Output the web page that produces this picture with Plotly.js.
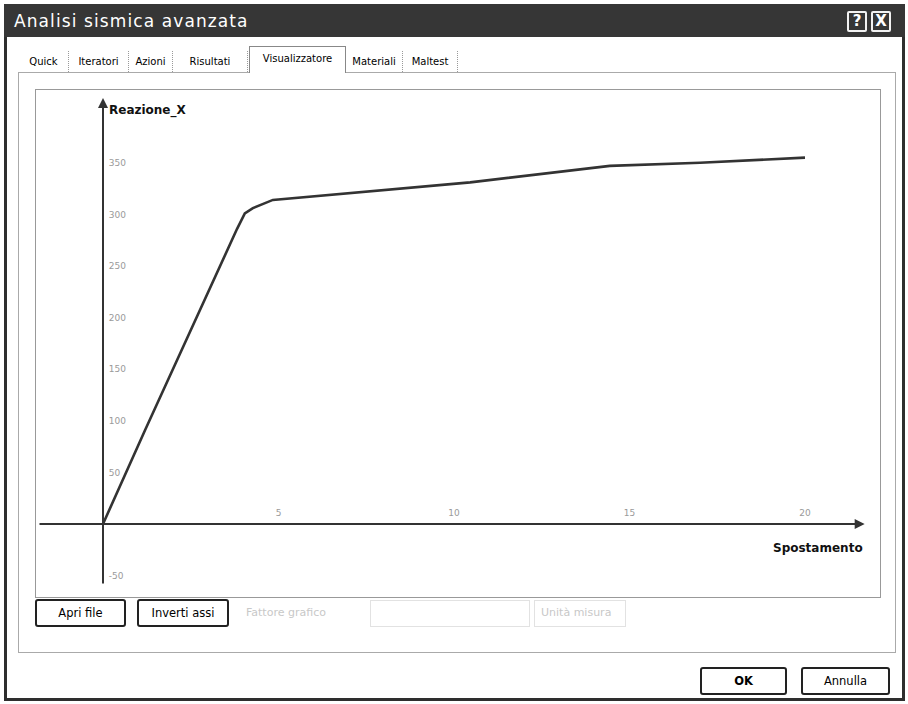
<!DOCTYPE html>
<html><head><meta charset="utf-8">
<script src="https://cdn.plot.ly/plotly-3.0.1.min.js"></script>
<style>
html,body{margin:0;padding:0;background:#fff;}
body{width:908px;height:704px;overflow:hidden;position:relative;font-family:"DejaVu Sans",sans-serif;}
.abs{position:absolute;box-sizing:border-box;}
#win{left:4px;top:4px;width:901px;height:697px;border:3px solid #2e2e2e;}
#titlebar{left:4px;top:4px;width:901px;height:33px;background:#363636;}
#title{left:14px;top:11px;color:#fff;font-size:17px;letter-spacing:1.1px;white-space:nowrap;}
.wbtn{top:11px;width:20px;height:21px;border:2px solid #f2f2f2;color:#fff;font-size:15px;font-weight:bold;text-align:center;line-height:17px;border-radius:2px;}
.tab{top:51px;height:21px;font-size:10px;color:#000;white-space:nowrap;line-height:21px;text-align:center;border-right:1px dotted #999;}
#seltab{top:46px;height:27px;background:#fff;border:1px solid #888;border-bottom:none;line-height:24px;font-size:10px;text-align:center;color:#000;}
#panel{left:18px;top:72px;width:878px;height:581px;border:1px solid #aaa;}
#frame{left:35px;top:89px;width:846px;height:509px;border:1px solid #999;}
#plot{left:36px;top:90px;width:844px;height:506px;}
.btn{height:28px;border:2px solid #222;border-radius:3px;font-size:11.5px;text-align:center;line-height:24px;color:#000;background:#fff;}
.dis{color:#c8c8c8;font-size:11px;white-space:nowrap;}
</style></head>
<body>
<div class="abs" id="win"></div>
<div class="abs" id="titlebar"></div>
<div class="abs" id="title">Analisi sismica avanzata</div>
<div class="abs wbtn" style="left:847px;">?</div>
<div class="abs wbtn" style="left:871px;">X</div>

<div class="abs" id="panel"></div>
<div class="abs tab" style="left:19px;width:50px;">Quick</div>
<div class="abs tab" style="left:69px;width:60px;">Iteratori</div>
<div class="abs tab" style="left:129px;width:44px;">Azioni</div>
<div class="abs tab" style="left:173px;width:75px;">Risultati</div>
<div class="abs" id="seltab" style="left:249px;width:97px;">Visualizzatore</div>
<div class="abs tab" style="left:346px;width:57px;">Materiali</div>
<div class="abs tab" style="left:403px;width:55px;">Maltest</div>

<div class="abs" id="frame"></div>
<div class="abs" id="plot"></div>

<div class="abs btn" style="left:35px;top:599px;width:91px;">Apri file</div>
<div class="abs btn" style="left:137px;top:599px;width:92px;">Inverti assi</div>
<div class="abs dis" style="left:246px;top:606px;">Fattore grafico</div>
<div class="abs" style="left:370px;top:600px;width:160px;height:27px;border:1px solid #e2e2e2;"></div>
<div class="abs" style="left:534px;top:600px;width:92px;height:27px;border:1px solid #e2e2e2;"></div>
<div class="abs dis" style="left:541px;top:606px;">Unità misura</div>

<div class="abs btn" style="left:700px;top:667px;width:87px;font-weight:bold;">OK</div>
<div class="abs btn" style="left:801px;top:667px;width:89px;">Annulla</div>

<script>
// Data
const spostamento = [0, 1.20, 3.82, 4.04, 4.27, 4.84, 10.46, 14.44, 17.01, 20.0];
const reazione    = [0, 91, 286, 301, 306, 314, 331, 347, 350, 355];
const xTickVals = [5, 10, 15, 20];
const xTickText = ['5', '10', '15', '20'];
const yTickVals = [-50, 50, 100, 150, 200, 250, 300, 350];
const yTickText = ['-50', '50', '100', '150', '200', '250', '300', '350'];
const xTitle = 'Spostamento';
const yTitle = 'Reazione_X';

const xRange = [-1.909, 22.137];
const yRange = [-69.8, 420.5];
const xAxisPos = (0 - yRange[0]) / (yRange[1] - yRange[0]);
const yAxisPos = (0 - xRange[0]) / (xRange[1] - xRange[0]);

const tickFont = {family: 'DejaVu Sans', size: 9, color: '#9a9a9a'};
const titleFont = {family: 'DejaVu Sans', size: 12, color: '#111', weight: 'bold'};

const trace = {
  x: spostamento, y: reazione, type: 'scatter', mode: 'lines',
  line: {color: '#333333', width: 2.6}, hoverinfo: 'skip'
};

const layout = {
  width: 844, height: 506,
  margin: {l: 0, r: 0, t: 0, b: 0, pad: 0},
  paper_bgcolor: 'rgba(0,0,0,0)', plot_bgcolor: 'rgba(0,0,0,0)',
  showlegend: false,
  xaxis: {
    range: xRange, anchor: 'free', position: xAxisPos, side: 'top',
    showgrid: false, zeroline: false, showline: false,
    tickvals: xTickVals, ticktext: xTickText, tickfont: tickFont,
    ticks: 'outside', ticklen: 4, tickcolor: 'rgba(0,0,0,0)'
  },
  yaxis: {
    range: yRange, anchor: 'free', position: yAxisPos, side: 'right',
    showgrid: false, zeroline: false, showline: false,
    tickvals: yTickVals, ticktext: yTickText, tickfont: tickFont,
    ticks: 'outside', ticklen: 3, tickcolor: 'rgba(0,0,0,0)'
  },
  annotations: [
    {x: 21.70, y: 0, ax: -1.852, ay: 0, xref: 'x', yref: 'y', axref: 'x', ayref: 'y',
     text: '', showarrow: true, arrowhead: 2, arrowsize: 1, arrowwidth: 2, arrowcolor: '#333'},
    {x: 0, y: 412.8, ax: 0, ay: -59.1, xref: 'x', yref: 'y', axref: 'x', ayref: 'y',
     text: '', showarrow: true, arrowhead: 2, arrowsize: 1, arrowwidth: 2, arrowcolor: '#333'},
    {x: 0, y: 401, xref: 'x', yref: 'y', xanchor: 'left', yanchor: 'middle', xshift: 4,
     text: yTitle, showarrow: false, font: titleFont},
    {x: 21.71, y: -23.3, xref: 'x', yref: 'y', xanchor: 'right', yanchor: 'middle',
     text: xTitle, showarrow: false, font: titleFont}
  ]
};

Plotly.newPlot('plot', [trace], layout, {displayModeBar: false, staticPlot: true});
</script>
</body></html>
